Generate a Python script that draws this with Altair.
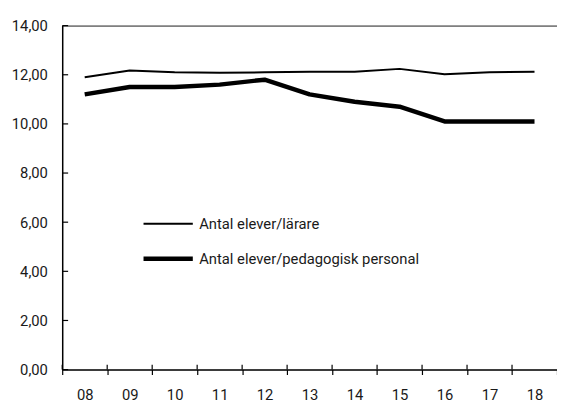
import altair as alt
import pandas as pd

years = ["08", "09", "10", "11", "12", "13", "14", "15", "16", "17", "18"]
larare = [11.9, 12.17, 12.1, 12.08, 12.1, 12.12, 12.12, 12.24, 12.02, 12.1, 12.12]
pedagogisk = [11.2, 11.5, 11.5, 11.6, 11.8, 11.2, 10.9, 10.7, 10.1, 10.1, 10.1]
series_names = ["Antal elever/lärare", "Antal elever/pedagogisk personal"]
y_ticks = [0, 2, 4, 6, 8, 10, 12, 14]

rows = []
for name, vals in zip(series_names, [larare, pedagogisk]):
    for yr, v in zip(years, vals):
        rows.append({"year": yr, "value": v, "series": name})
df = pd.DataFrame(rows)
df_yt = pd.DataFrame({"value": y_ticks})
df_xt = pd.DataFrame({"year": years})

FONT = "Roboto, Liberation Sans, sans-serif"
TXT = "#1a1a1a"
FS = 15
W, H = 502, 349

xscale = alt.Scale(domain=years, paddingInner=0, paddingOuter=0)
yscale = alt.Scale(domain=[0, 14], nice=False, zero=True)

lines = alt.Chart(df).mark_line(color="black", strokeCap="butt", strokeJoin="round").encode(
    x=alt.X("year:O", scale=xscale, sort=years,
            axis=alt.Axis(title=None, orient="bottom", labelAngle=0, tickBand="extent", tickSize=5,
                          tickColor="black", tickWidth=1.2, domainColor="black", domainWidth=1.5,
                          labelFont=FONT, labelFontSize=FS, labelColor=TXT, labelPadding=13,
                          grid=False)),
    y=alt.Y("value:Q", scale=yscale,
            axis=alt.Axis(title=None, orient="left", values=y_ticks, tickSize=0, domainColor="black",
                          domainWidth=1.5, labelFont=FONT, labelFontSize=FS, labelColor=TXT,
                          labelPadding=15, grid=False,
                          labelExpr="replace(format(datum.value, '.2f'), '.', ',')")),
    strokeWidth=alt.StrokeWidth("series:N", sort=series_names,
                                scale=alt.Scale(domain=series_names, range=[2, 4.5]),
                                legend=alt.Legend(title=None, orient="none", legendX=80, legendY=175,
                                                  symbolType="stroke", symbolSize=2500,
                                                  symbolStrokeColor="black",
                                                  labelFont=FONT, labelFontSize=FS,
                                                  labelColor=TXT, labelOffset=4, labelLimit=400,
                                                  rowPadding=-11, padding=0)),
    detail="series:N",
)

# inward ticks on the y axis
y_inner = alt.Chart(df_yt).mark_rule(color="black", strokeWidth=1.2).encode(
    y=alt.Y("value:Q", scale=yscale, axis=None),
    x=alt.value(0),
    x2=alt.value(6),
)

# upper half of the crossing ticks on the x axis (at band boundaries)
x_inner = alt.Chart(df_xt).mark_rule(color="black", strokeWidth=1.2).encode(
    x=alt.X("year:O", scale=xscale, sort=years, bandPosition=0, axis=None),
    y=alt.value(H - 5),
    y2=alt.value(H),
)

top_frame = alt.Chart(df).mark_line(opacity=0).encode(
    x=alt.X("year:O", scale=xscale, sort=years,
            axis=alt.Axis(title=None, orient="top", labels=False, ticks=False,
                          domainColor="#808080", domainWidth=2, grid=False)),
    y=alt.Y("value:Q", scale=yscale, axis=None),
    detail="series:N",
)

chart = alt.layer(lines, y_inner, x_inner, top_frame).resolve_axis(
    x="independent", y="independent"
).properties(
    width=W, height=H,
    autosize=alt.AutoSizeParams(type="none"),
    padding={"left": 55, "top": 15, "right": 0, "bottom": 31},
).configure_view(stroke=None).configure(background="white")

chart.save("out.html", embed_options={"renderer": "svg", "actions": False})
